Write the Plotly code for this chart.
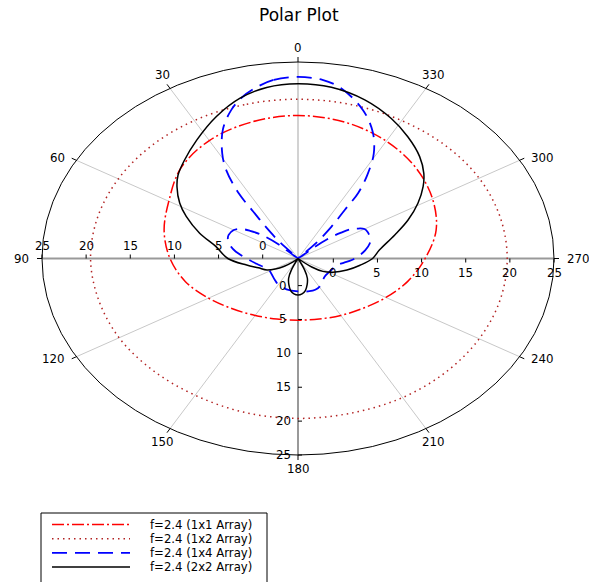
import numpy as np
import plotly.graph_objects as go

# ---------------- data: antenna gain (dB) versus azimuth (degrees) ----------------
theta_1x1 = [0, 15, 30, 45, 60, 75, 90, 105, 120, 135, 150, 165, 180,
             195, 210, 225, 240, 255, 270, 285, 300, 315, 330, 345, 360]
gain_1x1 = [17.1, 16.8, 16.1, 14.8, 12.9, 11.7, 10.5, 9.2, 7.7, 6.5, 5.7, 5.25, 5.1,
            5.25, 5.7, 6.4, 7.5, 8.9, 10.4, 12.2, 13.6, 14.9, 16.0, 16.8, 17.1]

theta_1x2 = [0, 15, 30, 45, 60, 75, 90, 105, 120, 135, 150, 165, 180,
             195, 210, 225, 240, 255, 270, 285, 300, 315, 330, 345, 360]
gain_1x2 = [19.5, 19.5, 19.5, 19.5, 19.5, 19.5, 19.5, 19.4, 19.4, 19.3, 19.3, 19.5, 19.6,
            19.6, 19.7, 19.7, 19.7, 19.7, 19.7, 19.7, 19.7, 19.6, 19.5, 19.5, 19.5]

theta_1x4 = [0, 6, 11, 15, 19, 24, 29, 32, 35, 36.2, 38, 40.5, 43.5, 46.5, 50, 53, 56,
             60, 66, 71, 77, 82, 90, 100, 108, 118, 129, 140, 151, 164, 180, 195, 203,
             211, 221, 232, 244, 252, 258, 263, 268, 274, 279, 285, 290, 296, 300,
             303.5, 306, 308, 310, 312, 315, 318, 321, 323.5, 324.8, 327.5, 331,
             335.6, 341.4, 349, 354, 360]
gain_1x4 = [22.8, 22.5, 21.6, 20.6, 19.2, 16.9, 13.7, 11.3, 7.6, 4.6, 2.0, -0.8, -4.0,
            -1.0, 1.5, 2.8, 3.8, 4.4, 4.6, 4.4, 3.8, 3.1, 1.8, 0.7, 0.1, -0.3, -0.2,
            0.1, 0.5, 0.73, 0.85, 1.0, 1.0, 0.8, 0.25, 0.0, 0.1, 0.3, 0.6, 1.2, 2.1,
            3.0, 3.7, 4.4, 4.7, 4.8, 4.7, 4.0, 3.3, 2.2, 0.9, -1.4, -4.0, -1.0, 2.0,
            4.9, 7.8, 10.6, 13.7, 16.5, 19.1, 21.6, 22.5, 22.8]

theta_2x2 = [0, 8, 15.5, 23.8, 33.3, 41.8, 48, 52.4, 58.6, 63.9, 71.5, 79.3, 90,
             99.4, 107, 115.6, 121, 126, 131, 135, 152, 156, 160, 165, 170, 175, 180,
             185, 190, 195, 200, 204, 208, 226, 231, 236, 243, 253, 262,
             270, 277.7, 287.6, 294.5, 301, 306.8, 311.4, 317.5, 325.3, 332.9, 342.1,
             351.5, 360]
gain_2x2 = [21.8, 21.5, 20.55, 18.9, 16.9, 15.35, 14.3, 13.3, 11.7, 10.1, 7.75, 5.45,
            3.95, 1.9, 0.7, -0.1, -1.0, -2.0, -3.2, -4.0, -4.0, -2.2, -0.9, 0.0, 0.8,
            1.25, 1.4, 1.25, 0.8, 0.0, -0.9, -2.2, -4.0, -4.0, -2.0, -0.6, 0.45,
            1.8, 3.1, 4.45, 5.3, 7.5, 9.7, 11.85, 13.7, 15.0, 16.4, 17.85, 19.2,
            20.6, 21.55, 21.8]

series_names = ["f=2.4 (1x1 Array)", "f=2.4 (1x2 Array)",
                "f=2.4 (1x4 Array)", "f=2.4 (2x2 Array)"]

radial_ticks = [0, 5, 10, 15, 20, 25]
angle_ticks = [0, 30, 60, 90, 120, 150, 180, 210, 240, 270, 300, 330]

# ---------------- radial scale & canvas geometry ----------------
R_MIN, R_MAX = -4, 25
SPAN = R_MAX - R_MIN
W, H = 589, 582
CX, CY = 298.0, 258.5                  # pole position in pixels
SX, SY = 256.0 / SPAN, 196.5 / SPAN    # pixels per radial unit (x, y)
FONT = "DejaVu Sans"


def ux(px):   # pixel x -> axis units
    return (px - CX) / SX


def uy(py):   # pixel y -> axis units
    return (CY - py) / SY


def to_xy(theta_deg, gain):
    rho = np.clip(np.asarray(gain, float) - R_MIN, 0, None)
    t = np.radians(np.asarray(theta_deg, float))
    return -rho * np.sin(t), rho * np.cos(t)


def pix_dir(theta_deg):
    """unit vector (pixel space, y down) pointing outward along an angle"""
    t = np.radians(theta_deg)
    v = np.array([-SX * np.sin(t), -SY * np.cos(t)])
    return v / np.hypot(*v)


def edge_px(theta_deg, rho=SPAN):
    t = np.radians(theta_deg)
    return CX - rho * SX * np.sin(t), CY - rho * SY * np.cos(t)


fig = go.Figure()

styles = [
    dict(color="#ff0000", width=1.5, dash="12px,3px,2px,3px"),
    dict(color="#b22222", width=1.5, dash="1.5px,4px"),
    dict(color="#0000ff", width=1.8, dash="15px,8px"),
    dict(color="#000000", width=1.5, dash="solid"),
]
series = [(theta_1x1, gain_1x1), (theta_1x2, gain_1x2),
          (theta_1x4, gain_1x4), (theta_2x2, gain_2x2)]

for (th, g), name, st in zip(series, series_names, styles):
    x, y = to_xy(th, g)
    fig.add_trace(go.Scatter(
        x=x, y=y, mode="lines", name=name, showlegend=False, hoverinfo="skip",
        line=dict(color=st["color"], width=st["width"], dash=st["dash"],
                  shape="spline", smoothing=1.0)))

shapes = []
annotations = []

# angular grid (spokes)
for a in angle_ticks:
    if a in (90, 180, 270):
        continue
    ex, ey = to_xy([a], [R_MAX])
    col, w = ("#b4b4b4", 1.2) if a == 0 else ("#c8c8c8", 1)
    shapes.append(dict(type="line", x0=0, y0=0, x1=ex[0], y1=ey[0], layer="below",
                       line=dict(color=col, width=w)))

# radial axes (left, right, down)
shapes.append(dict(type="line", x0=-SPAN, y0=0, x1=SPAN, y1=0, layer="below",
                   line=dict(color="#999999", width=2)))
shapes.append(dict(type="line", x0=0, y0=0, x1=0, y1=-SPAN, layer="below",
                   line=dict(color="#999999", width=2)))

# outer boundary
shapes.append(dict(type="circle", x0=-SPAN, y0=-SPAN, x1=SPAN, y1=SPAN, layer="below",
                   line=dict(color="#000000", width=1)))

# angular ticks and labels
TICK, GX, GY = 5, 6.7, 1.2
for a in angle_ticks:
    px0, py0 = edge_px(a)
    d = pix_dir(a)
    px1, py1 = px0 + TICK * d[0], py0 + TICK * d[1]
    shapes.append(dict(type="line", x0=ux(px0), y0=uy(py0), x1=ux(px1), y1=uy(py1),
                       line=dict(color="#000000", width=1)))
    lx, ly = px1 + GX * d[0], py1 + GY * d[1]
    xa = "center" if abs(d[0]) < 0.7 else ("right" if d[0] < 0 else "left")
    ya = "middle" if abs(d[1]) < 0.7 else ("bottom" if d[1] < 0 else "top")
    annotations.append(dict(x=ux(lx), y=uy(ly), text=str(a), showarrow=False,
                            xanchor=xa, yanchor=ya, borderpad=0,
                            font=dict(family=FONT, size=11.8, color="#000000")))

# radial ticks and labels
for v in radial_ticks:
    rho = v - R_MIN
    # left arm: ticks up, labels above
    shapes.append(dict(type="line", x0=-rho, y0=0, x1=-rho, y1=4 / SY,
                       line=dict(color="#000000", width=1)))
    annotations.append(dict(x=-rho, y=uy(CY - 12.7), text=str(v), showarrow=False,
                            xanchor="center", yanchor="middle", borderpad=0,
                            font=dict(family=FONT, size=11.8, color="#000000")))
    # right arm: ticks down, labels below
    shapes.append(dict(type="line", x0=rho, y0=0, x1=rho, y1=-4 / SY,
                       line=dict(color="#000000", width=1)))
    annotations.append(dict(x=rho, y=uy(CY + 14.8), text=str(v), showarrow=False,
                            xanchor="center", yanchor="middle", borderpad=0,
                            font=dict(family=FONT, size=11.8, color="#000000")))
    # lower arm: ticks right, labels left
    shapes.append(dict(type="line", x0=0, y0=-rho, x1=4 / SX, y1=-rho,
                       line=dict(color="#000000", width=1)))
    annotations.append(dict(x=ux(CX - 15), y=-rho, text=str(v), showarrow=False,
                            xanchor="center", yanchor="middle", borderpad=0,
                            font=dict(family=FONT, size=11.8, color="#000000")))

# legend box with line samples
LX0, LY0, LX1, LY1 = 41, 513, 267, 600
shapes.append(dict(type="rect", x0=ux(LX0), y0=uy(LY0), x1=ux(LX1), y1=uy(LY1),
                   line=dict(color="#000000", width=1), fillcolor="#ffffff", layer="below"))
row_y = [524.5, 538.7, 552.9, 567.1]
for name, st, ry in zip(series_names, styles, row_y):
    shapes.append(dict(type="line", x0=ux(52), y0=uy(ry), x1=ux(130), y1=uy(ry),
                       line=dict(color=st["color"], width=st["width"], dash=st["dash"])))
    annotations.append(dict(x=ux(149), y=uy(ry), text=name, showarrow=False,
                            xanchor="left", yanchor="middle", borderpad=0,
                            font=dict(family=FONT, size=11.7, color="#000000")))

# title
annotations.append(dict(x=ux(298.5), y=uy(15), text="Polar Plot", showarrow=False,
                        xanchor="center", yanchor="middle",
                        font=dict(family=FONT, size=17, color="#000000")))

fig.update_layout(
    width=W, height=H,
    margin=dict(l=0, r=0, t=0, b=0, pad=0),
    paper_bgcolor="#ffffff", plot_bgcolor="#ffffff",
    shapes=shapes, annotations=annotations, showlegend=False,
    xaxis=dict(range=[ux(0), ux(W)], visible=False, fixedrange=True),
    yaxis=dict(range=[uy(H), uy(0)], visible=False, fixedrange=True),
)

fig.write_html("out.html", config={"displayModeBar": False})
